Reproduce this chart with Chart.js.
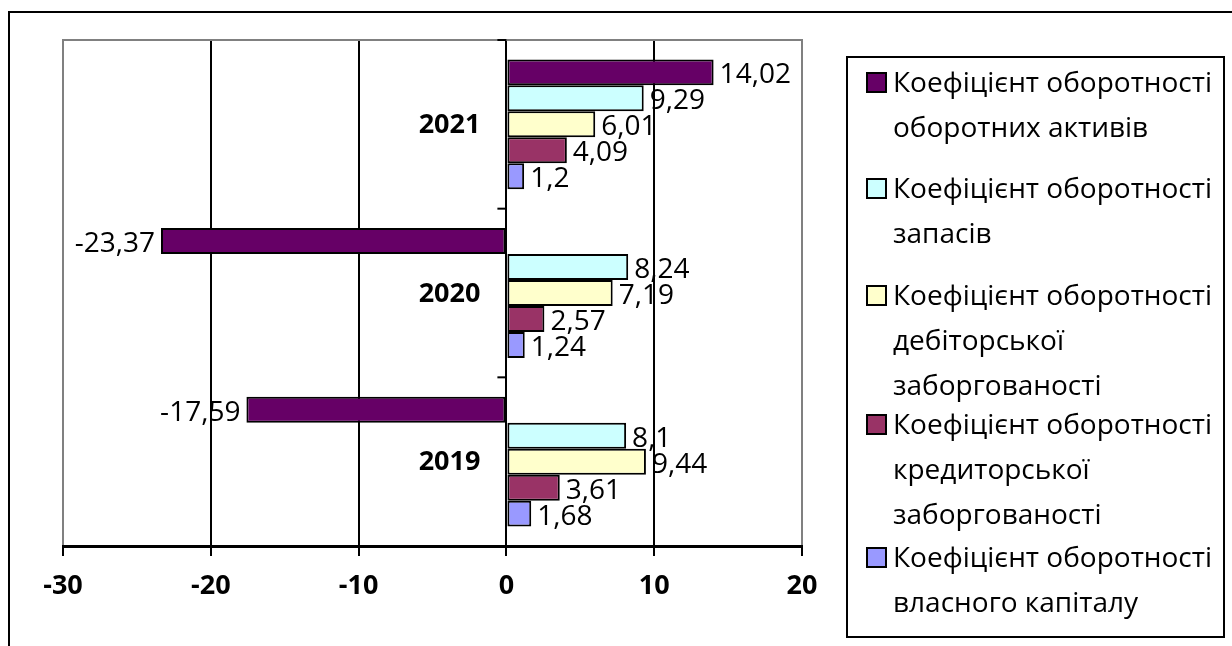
<!DOCTYPE html>
<html>
<head>
<meta charset="utf-8">
<script src="https://cdn.jsdelivr.net/npm/chart.js@4/dist/chart.umd.min.js"></script>
<style>
  body { margin: 0; background: #fff; }
  #wrap { position: relative; width: 1232px; height: 646px; overflow: hidden; font-family: "Open Sans", sans-serif; }
  #frame { position: absolute; left: 8px; top: 11px; width: 1240px; height: 660px; border: 2px solid #000; }
  #legend { position: absolute; left: 846px; top: 56px; width: 375px; height: 578px; border: 2px solid #000; background: #fff; }
  .item { position: absolute; left: 0; }
  .sw { position: absolute; left: 18px; width: 17px; height: 17px; border: 2px solid #000; }
  .txt { position: absolute; left: 45px; width: 340px; font-size: 28px; line-height: 45px; color: #000; white-space: nowrap; }
  canvas { position: absolute; left: 0; top: 0; }
</style>
</head>
<body>
<div id="wrap">
  <div id="frame"></div>
  <canvas id="chart" width="1232" height="646"></canvas>
  <div id="legend"></div>
</div>
<script>
// Роки (зверху вниз)
const roky = ['2021', '2020', '2019'];

const nazvySerii = [
  'Коефіцієнт оборотності оборотних активів',
  'Коефіцієнт оборотності запасів',
  'Коефіцієнт оборотності дебіторської заборгованості',
  'Коефіцієнт оборотності кредиторської заборгованості',
  'Коефіцієнт оборотності власного капіталу'
];

// значення по роках 2021, 2020, 2019
const oborotniAktyvy = [14.02, -23.37, -17.59];
const zapasy = [9.29, 8.24, 8.1];
const debitorska = [6.01, 7.19, 9.44];
const kredytorska = [4.09, 2.57, 3.61];
const vlasnyiKapital = [1.2, 1.24, 1.68];

const xTicks = [-30, -20, -10, 0, 10, 20];

const kolory = ['#660066', '#CCFFFF', '#FFFFCC', '#993366', '#9999FF'];
// центр першого рядка кожного пункту легенди (відносно рамки легенди)
const legendaVerh = [23, 129, 236, 365, 498];

const FONT = '"Open Sans", sans-serif';

function chyslo(v) {
  return String(v).replace('.', ',');
}

// підписи значень, підписи років, засічки осі
const dopomizhnyi = {
  id: 'dopomizhnyi',
  beforeDatasetsDraw(chart) {
    const { ctx, chartArea } = chart;
    ctx.save();
    ctx.strokeStyle = '#808080';
    ctx.lineWidth = 2;
    ctx.beginPath();
    ctx.moveTo(chartArea.left - 1, chartArea.top);
    ctx.lineTo(chartArea.right + 1, chartArea.top);
    ctx.stroke();
    ctx.restore();
  },
  afterDatasetsDraw(chart) {
    const { ctx, chartArea } = chart;
    const xs = chart.scales.x;
    const ys = chart.scales.y;
    const x0 = xs.getPixelForValue(0);
    ctx.save();
    // засічки на вертикальній осі
    ctx.strokeStyle = '#000';
    ctx.lineWidth = 2;
    const krok = (chartArea.bottom - chartArea.top) / roky.length;
    for (let i = 0; i <= roky.length; i++) {
      const y = chartArea.top + i * krok;
      ctx.beginPath();
      ctx.moveTo(x0 - 9, y);
      ctx.lineTo(x0, y);
      ctx.stroke();
    }
    // роки
    ctx.fillStyle = '#000';
    ctx.font = 'bold 27px ' + FONT;
    ctx.textAlign = 'right';
    ctx.textBaseline = 'middle';
    roky.forEach((r, i) => {
      ctx.fillText(r, x0 - 26, ys.getPixelForValue(i) + 1);
    });
    // значення
    ctx.font = '28px ' + FONT;
    chart.data.datasets.forEach((ds, di) => {
      const meta = chart.getDatasetMeta(di);
      meta.data.forEach((bar, i) => {
        const v = ds.data[i];
        if (v >= 0) {
          ctx.textAlign = 'left';
          ctx.fillText(chyslo(v), bar.x + 6, bar.y + 3);
        } else {
          ctx.textAlign = 'right';
          ctx.fillText(chyslo(v), bar.x - 6, bar.y + 3);
        }
      });
    });
    ctx.restore();
  }
};

const dani = [oborotniAktyvy, zapasy, debitorska, kredytorska, vlasnyiKapital];

new Chart(document.getElementById('chart').getContext('2d'), {
  type: 'bar',
  data: {
    labels: roky,
    datasets: dani.map((d, i) => ({
      label: nazvySerii[i],
      data: d,
      backgroundColor: kolory[i],
      borderColor: '#000',
      borderWidth: 2,
      borderSkipped: false,
      categoryPercentage: 0.77,
      barPercentage: 1
    }))
  },
  options: {
    indexAxis: 'y',
    responsive: false,
    animation: false,
    layout: { padding: { left: 63, top: 40, right: 430, bottom: 0 } },
    plugins: {
      legend: { display: false },
      tooltip: { enabled: false }
    },
    scales: {
      x: {
        min: -30,
        max: 20,
        afterBuildTicks: s => { s.ticks = xTicks.map(v => ({ value: v })); },
        afterFit: s => { s.height = 100; },
        grid: {
          color: c => (c.tick && (c.tick.value === -30 || c.tick.value === 20)) ? '#808080' : '#000',
          lineWidth: 2,
          tickLength: 10,
          tickColor: '#000',
          tickWidth: 2
        },
        border: { display: true, color: '#000', width: 3 },
        ticks: {
          color: '#000',
          padding: 14,
          font: { family: FONT, size: 27, weight: 'bold' }
        }
      },
      y: {
        display: false
      }
    }
  },
  plugins: [dopomizhnyi]
});

// легенда
const legenda = document.getElementById('legend');
nazvySerii.forEach((n, i) => {
  const slova = n.split(' ');
  const item = document.createElement('div');
  item.className = 'item';
  item.style.top = (legendaVerh[i] - 22) + 'px';
  item.innerHTML =
    `<div class="sw" style="top:${13}px;background:${kolory[i]}"></div>` +
    `<div class="txt">${slova.slice(0, 2).join(' ')}<br>${slova.slice(2).join(' ').replace('ської ', 'ської<br>')}</div>`;
  legenda.appendChild(item);
});
</script>
</body>
</html>
